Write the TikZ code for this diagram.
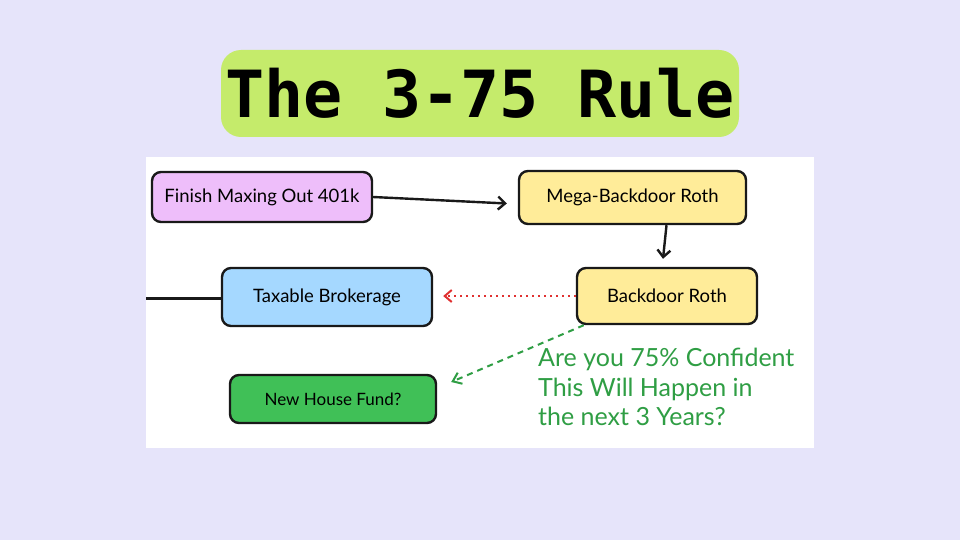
\documentclass[tikz,border=0pt]{standalone}
\usepackage{fontspec}
\setmainfont{Lato}
\newfontfamily\titlefont{DejaVu Sans Mono}
\usetikzlibrary{arrows.meta}
\definecolor{bgc}{RGB}{230,228,250}
\definecolor{titlegreen}{RGB}{197,235,107}
\definecolor{purplefill}{RGB}{238,190,250}
\definecolor{yellowfill}{RGB}{255,236,153}
\definecolor{bluefill}{RGB}{165,216,255}
\definecolor{greenfill}{RGB}{64,192,87}
\definecolor{notegreen}{RGB}{47,158,68}
\definecolor{dotred}{RGB}{224,49,49}
\tikzset{
  flowbox/.style={draw=black!90, line width=2.4pt, rounded corners=9pt, inner sep=0pt, font=\fontsize{18.5}{20}\selectfont},
  flowarrow/.style={draw=black!90, line width=2.4pt, -{Straight Barb[length=7pt,width=13pt,line width=2.4pt]}},
}
\begin{document}
\begin{tikzpicture}[x=1pt,y=-1pt]
\useasboundingbox (0,0) rectangle (960,540);
\fill[bgc] (0,0) rectangle (960,540);
\node[fill=titlegreen, rounded corners=20pt, minimum width=518pt, minimum height=87pt, inner sep=0pt, font=\titlefont\bfseries\fontsize{65}{70}\selectfont] (title) at (480,93.5) {The 3-75 Rule};
\node[fill=white, minimum width=668pt, minimum height=291pt, inner sep=0pt] (panel) at (480,302.5) {};
\node[flowbox, fill=purplefill, minimum width=220pt, minimum height=50pt] (fin) at (262,197) {Finish Maxing Out 401k};
\node[flowbox, fill=yellowfill, minimum width=227pt, minimum height=53pt] (mega) at (632.5,197.5) {Mega-Backdoor Roth};
\node[flowbox, fill=yellowfill, minimum width=180pt, minimum height=56pt] (bdr) at (667,296) {Backdoor Roth};
\node[flowbox, fill=bluefill, minimum width=210pt, minimum height=58pt] (tax) at (327,297) {Taxable Brokerage};
\node[flowbox, fill=greenfill, minimum width=206pt, minimum height=48pt, font=\fontsize{17}{20}\selectfont] (house) at (333,399) {New House Fund?};
\node[anchor=north west, align=left, text=notegreen, inner sep=0pt, font=\fontsize{25}{29.5}\selectfont] (note) at (538,348) {Are you 75\% Confident\\This Will Happen in\\the next 3 Years?};
\coordinate (leftend) at (146,298);
\draw[draw=black!90, line width=3pt] (leftend) -- (tax.west |- leftend);
\draw[flowarrow] (fin.east) -- ([xshift=-11pt,yshift=-6pt]mega.west);
\draw[flowarrow] ([xshift=34pt]mega.south) -- ([xshift=-4pt,yshift=8pt]bdr.north);
\draw[dotred, line width=2pt, dash pattern=on 2pt off 4pt, -{Straight Barb[length=7pt,width=12pt,line width=2pt]}] (bdr.west) -- ([xshift=10pt]tax.east |- bdr.west);
\draw[notegreen, line width=2pt, dash pattern=on 6pt off 5pt, -{Straight Barb[length=8pt,width=12pt,line width=2pt]}] ([xshift=8pt]bdr.south west) -- ([xshift=14pt,yshift=17pt]house.east);
\end{tikzpicture}
\end{document}
